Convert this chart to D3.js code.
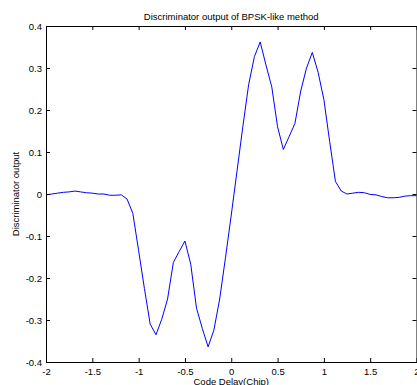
<!DOCTYPE html>
<html>
<head>
<meta charset="utf-8">
<script src="https://cdn.jsdelivr.net/npm/d3@7"></script>
<style>
html,body{margin:0;padding:0;background:#fff;overflow:hidden;}
svg{display:block;font-family:"Liberation Sans",Arial,sans-serif;}
</style>
</head>
<body>
<svg id="chart" width="417" height="385"></svg>
<script>
const delays = [
 -2.0,-1.9375,-1.875,-1.8125,-1.75,-1.6875,-1.625,-1.5625,-1.5,-1.4375,-1.375,-1.3125,-1.25,-1.1875,-1.125,-1.0625,
 -1.0,-0.9375,-0.875,-0.8125,-0.75,-0.6875,-0.625,-0.5625,-0.5,-0.4375,-0.375,-0.3125,-0.25,-0.1875,-0.125,-0.0625,
 0.0,0.0625,0.125,0.1875,0.25,0.3125,0.375,0.4375,0.5,0.5625,0.625,0.6875,0.75,0.8125,0.875,0.9375,
 1.0,1.0625,1.125,1.1875,1.25,1.3125,1.375,1.4375,1.5,1.5625,1.625,1.6875,1.75,1.8125,1.875,1.9375,2.0
];
const output = [
 -0.002,0.000,0.002,0.004,0.005,0.007,0.005,0.003,0.002,0.000,0.000,-0.003,-0.003,-0.002,-0.012,-0.046,
 -0.135,-0.225,-0.310,-0.335,-0.298,-0.250,-0.163,-0.137,-0.112,-0.167,-0.272,-0.320,-0.364,-0.324,-0.250,-0.152,
 -0.050,0.055,0.160,0.260,0.327,0.362,0.307,0.255,0.160,0.106,0.137,0.168,0.245,0.300,0.337,0.290,
 0.225,0.125,0.030,0.007,0.000,0.002,0.004,0.003,-0.001,-0.002,-0.006,-0.009,-0.009,-0.008,-0.005,-0.004,-0.004
];
const xTicks = [-2,-1.5,-1,-0.5,0,0.5,1,1.5,2];
const yTicks = [-0.4,-0.3,-0.2,-0.1,0,0.1,0.2,0.3,0.4];
const titleText = "Discriminator output of BPSK-like method";
const xLabel = "Code Delay(Chip)";
const yLabel = "Discriminator output";

const svg = d3.select("#chart");
const L = 46, R = 416.5, T = 26, B = 362;
const x = d3.scaleLinear().domain([-2, 2]).range([L, R]);
const y = d3.scaleLinear().domain([-0.4, 0.4]).range([B, T]);
const fmt = d => String(d);
const fs = "9.5px";

function style(g){
  g.select(".domain").attr("stroke","#000").attr("stroke-width",1);
  g.selectAll(".tick line").attr("stroke","#000").attr("stroke-width",1);
  g.selectAll(".tick text").attr("fill","#000").style("font-size",fs).style("font-family","'Liberation Sans',Arial,sans-serif");
}

// data line (drawn first, axes on top)
const line = d3.line().x((d,i)=>x(delays[i])).y(d=>y(d));
svg.append("path").datum(output)
  .attr("d", line)
  .attr("fill","none")
  .attr("stroke","#0000ff")
  .attr("stroke-width",1);

// axes (box, inward ticks)
svg.append("g").attr("transform",`translate(0,${B})`)
  .call(d3.axisBottom(x).tickValues(xTicks).tickFormat(fmt).tickSizeInner(-4).tickSizeOuter(0).tickPadding(6))
  .call(style);
svg.append("g").attr("transform",`translate(0,${T})`)
  .call(d3.axisTop(x).tickValues(xTicks).tickFormat("").tickSizeInner(-4).tickSizeOuter(0))
  .call(style);
svg.append("g").attr("transform",`translate(${L},0)`)
  .call(d3.axisLeft(y).tickValues(yTicks).tickFormat(fmt).tickSizeInner(-4).tickSizeOuter(0).tickPadding(4))
  .call(style);
svg.append("g").attr("transform",`translate(${R},0)`)
  .call(d3.axisRight(y).tickValues(yTicks).tickFormat("").tickSizeInner(-4).tickSizeOuter(0))
  .call(style);

svg.selectAll("g").attr("fill","none").attr("font-size",null);

// title
svg.append("text").attr("x",(L+R)/2).attr("y",19.5)
  .attr("text-anchor","middle").style("font-size",fs).attr("fill","#000").text(titleText);
// x label
svg.append("text").attr("x",(L+R)/2).attr("y",385)
  .attr("text-anchor","middle").style("font-size",fs).attr("fill","#000").text(xLabel);
// y label
svg.append("text").attr("transform",`translate(18.5,${(T+B)/2}) rotate(-90)`)
  .attr("text-anchor","middle").style("font-size",fs).attr("fill","#000").text(yLabel);
</script>
</body>
</html>
